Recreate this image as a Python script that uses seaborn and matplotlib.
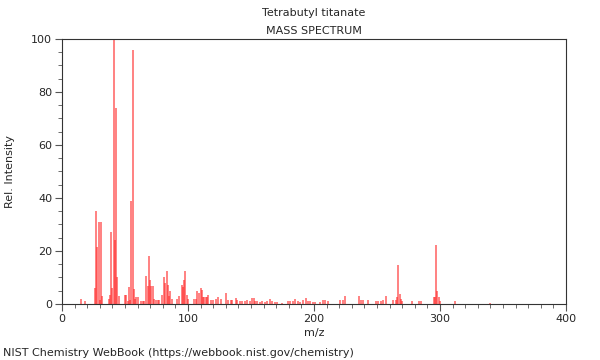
import numpy as np
import pandas as pd
import matplotlib
matplotlib.use("Agg")
import matplotlib.pyplot as plt
import seaborn as sns
from matplotlib.ticker import MultipleLocator

# m/z values and relative intensities
mz = [15, 18, 26, 27, 28, 29, 30, 31, 32, 37, 38, 39, 40, 41, 42, 43, 44, 45,
      50, 51, 52, 53, 54, 55, 56, 57, 58, 59, 60, 63, 64, 65, 67, 68, 69, 70,
      71, 72, 73, 75, 76, 77, 79, 81, 82, 83, 84, 85, 86, 87, 91, 93, 95, 96,
      97, 98, 99, 100, 105, 106, 107, 109, 110, 111, 112, 113, 114, 115, 116,
      118, 120, 122, 124, 126, 130, 132, 134, 135, 138, 139, 141, 143, 145,
      147, 149, 151, 152, 153, 155, 157, 159, 161, 163, 165, 167, 169, 171,
      175, 179, 181, 183, 185, 187, 189, 191, 194, 195, 197, 199, 201, 205,
      207, 209, 211, 221, 223, 225, 236, 237, 239, 243, 249, 251, 253, 255,
      257, 263, 265, 266, 267, 268, 269, 270, 278, 283, 285, 295, 296, 297,
      298, 299, 300, 312, 340]
intensity = [2.0, 1.0, 6.0, 35.0, 21.5, 31.0, 1.5, 31.0, 3.0, 2.0, 3.4, 27.0,
             6.0, 100.0, 24.0, 74.0, 10.0, 3.0, 3.4, 3.4, 1.0, 6.5, 1.5, 39.0,
             96.0, 5.5, 2.0, 2.7, 2.7, 1.0, 1.0, 1.0, 10.5, 6.8, 18.0, 9.0,
             6.6, 6.6, 2.0, 1.5, 1.5, 1.5, 3.4, 10.0, 8.0, 12.6, 7.0, 3.0, 5.0,
             2.0, 2.0, 3.0, 7.0, 6.4, 9.0, 12.6, 3.4, 2.0, 2.0, 2.0, 5.0, 4.0,
             6.0, 5.3, 2.5, 2.5, 2.5, 2.7, 3.4, 1.5, 1.5, 2.0, 2.7, 2.0, 4.0,
             1.5, 1.5, 1.5, 2.4, 1.5, 1.0, 1.2, 1.0, 1.5, 1.0, 2.1, 2.1, 1.0,
             1.2, 0.8, 1.0, 0.7, 1.0, 1.9, 1.0, 0.8, 0.6, 0.5, 1.0, 1.0, 1.2,
             1.9, 1.0, 0.8, 1.5, 2.1, 1.0, 1.0, 0.8, 0.7, 0.6, 1.5, 1.5, 1.2,
             1.5, 1.5, 3.0, 3.0, 1.5, 1.5, 1.5, 1.0, 1.0, 1.0, 1.5, 3.0, 1.5,
             1.5, 2.7, 14.7, 3.8, 2.0, 1.0, 1.0, 1.0, 1.0, 2.7, 2.7, 22.3, 5.0,
             2.7, 1.0, 1.0, 0.5]

df = pd.DataFrame({"mz": mz, "intensity": intensity})

sns.set_theme(style="ticks")
plt.rcParams['font.family'] = ['DejaVu Sans']

fig = plt.figure(figsize=(6, 3.6), dpi=100)
ax = fig.add_axes([0.1033, 0.1556, 0.84, 0.7361])

ax.vlines(df["mz"], 0, df["intensity"], color="#ff2a2a", linewidth=1.1, alpha=0.75)

ax.set_xlim(0, 400)
ax.set_ylim(0, 100)
ax.xaxis.set_major_locator(MultipleLocator(100))
ax.xaxis.set_minor_locator(MultipleLocator(10))
ax.yaxis.set_major_locator(MultipleLocator(20))
ax.yaxis.set_minor_locator(MultipleLocator(5))
ax.tick_params(which="major", length=5, width=0.8, color="#555555", labelsize=8, pad=2)
ax.tick_params(which="minor", length=3, width=0.6, color="#555555")
for s in ax.spines.values():
    s.set_color("#333333")
    s.set_linewidth(0.8)

ax.set_xlabel("m/z", fontsize=8, labelpad=3)
ax.set_ylabel("Rel. Intensity", fontsize=8, labelpad=12)

fig.text(0.523, 0.963, "Tetrabutyl titanate", ha="center", va="center", fontsize=8)
fig.text(0.523, 0.915, "MASS SPECTRUM", ha="center", va="center", fontsize=8)
fig.text(0.005, 0.02, "NIST Chemistry WebBook (https://webbook.nist.gov/chemistry)",
         ha="left", va="center", fontsize=8)

fig.savefig("out.png", dpi=100)
